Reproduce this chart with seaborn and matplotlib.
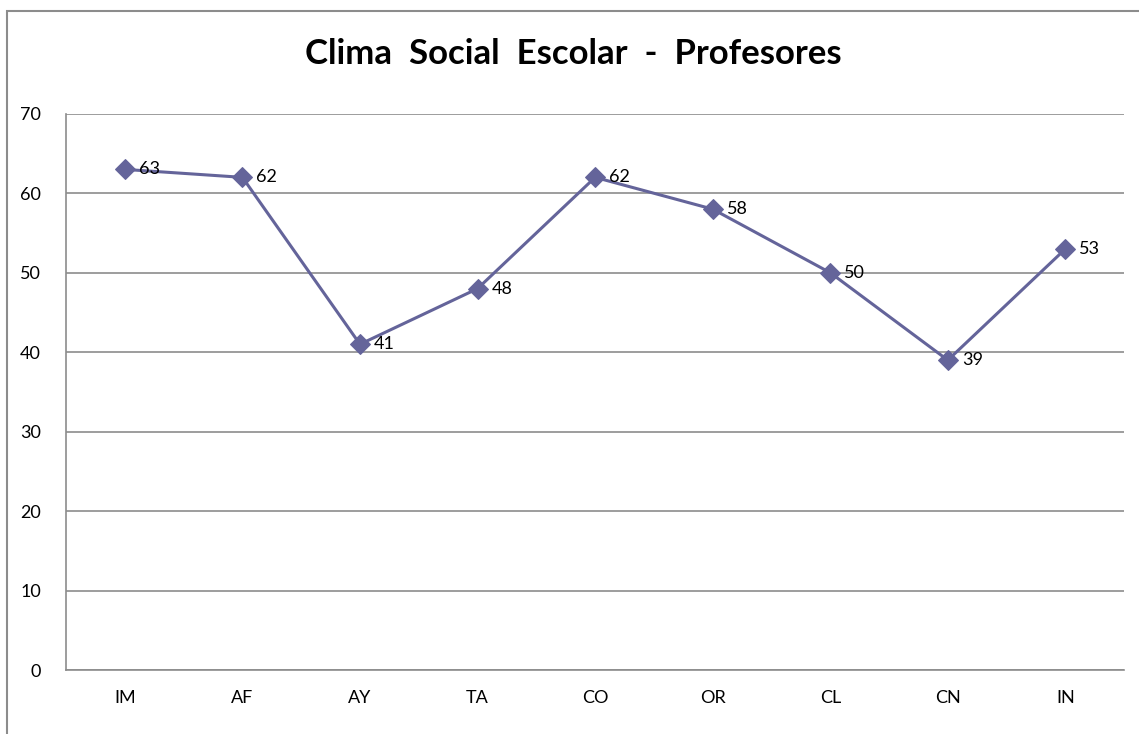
import matplotlib
matplotlib.use("Agg")
import matplotlib.pyplot as plt
import seaborn as sns
import pandas as pd
from matplotlib.patches import Rectangle

# Data
categories = ["IM", "AF", "AY", "TA", "CO", "OR", "CL", "CN", "IN"]
values = [63, 62, 41, 48, 62, 58, 50, 39, 53]
yticks = [0, 10, 20, 30, 40, 50, 60, 70]

df = pd.DataFrame({"Dimension": categories, "Puntaje": values})

sns.set_theme(style="white")
plt.rcParams["font.family"] = ["Lato", "DejaVu Sans"]

fig = plt.figure(figsize=(11.39, 7.34), dpi=100)
ax = fig.add_axes([0.058, 0.087, 0.929, 0.758])

line_color = "#64649A"
sns.lineplot(data=df, x="Dimension", y="Puntaje", ax=ax, color=line_color,
             linewidth=2.2, marker="D", markersize=10, markeredgecolor=line_color,
             sort=False)

# Data labels
for i, v in enumerate(df["Puntaje"]):
    ax.annotate(str(v), (i, v), xytext=(10, 0), textcoords="offset points",
                va="center", ha="left", fontsize=13, color="black")

ax.set_xlim(-0.5, len(categories) - 0.5)
ax.set_ylim(0, 70)
ax.set_yticks(yticks)
ax.yaxis.grid(True, color="#8C8C8C", linewidth=1.2)
ax.set_axisbelow(True)
ax.set_xlabel("")
ax.set_ylabel("")
ax.tick_params(axis="both", length=0, labelsize=13, colors="black")
ax.tick_params(axis="y", pad=18)
ax.tick_params(axis="x", pad=14)

for side in ["top", "right"]:
    ax.spines[side].set_visible(False)
for side in ["left", "bottom"]:
    ax.spines[side].set_color("#8C8C8C")
    ax.spines[side].set_linewidth(1.2)

fig.text(0.503, 0.926, "Clima  Social  Escolar  -  Profesores",
         ha="center", va="center", fontsize=25, fontweight="bold", color="black")

# Outer chart frame (clipped on right and bottom like the reference)
frame = Rectangle((7 / 1139, -0.05), 1.1, 0.985 + 0.05, transform=fig.transFigure,
                  fill=False, edgecolor="#8C8C8C", linewidth=1.5)
fig.patches.append(frame)

fig.savefig("out.png", dpi=100)
